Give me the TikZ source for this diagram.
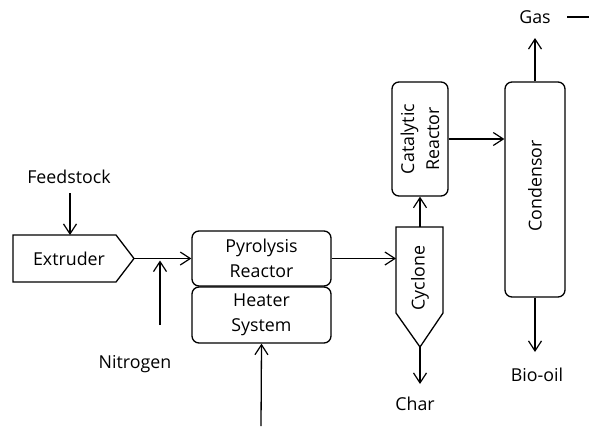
\documentclass[tikz,border=0pt]{standalone}
\usepackage{fontspec}
\setmainfont{Open Sans}
\usetikzlibrary{arrows.meta}
\begin{document}
\begin{tikzpicture}[x=1pt,y=-1pt, line width=1.3pt,
 box/.style={draw, rounded corners=7pt, inner sep=0pt},
 lbl/.style={font=\fontsize{17.8}{25}\selectfont, inner sep=0pt, align=center},
 flow/.style={-{Straight Barb[length=10pt,width=13pt,line width=1.2pt]}}]
\useasboundingbox (0,0) rectangle (589,426);
% Extruder
\draw (13,235) -- (116,235) -- (134,258.5) -- (116,282) -- (13,282) -- cycle;
\node[lbl] (extl) at (69,259) {Extruder};
\coordinate (exttip) at (134,258.5);
\coordinate (exttop) at (70,235);
% Feedstock
\node[lbl] (feed) at (69,177) {Feedstock};
\coordinate (feedst) at (70,193);
\draw[flow] (feedst) -- (exttop);
% Pyrolysis reactor and heater
\node[box, minimum width=139pt, minimum height=55pt] (pyro) at (261.5,258.5) {};
\node[lbl] (pyrol) at (pyro) {Pyrolysis\\Reactor};
\node[box, minimum width=139pt, minimum height=56pt] (heat) at (261.5,315) {};
\node[lbl] (heatl) at (heat) {Heater\\System};
\draw[flow] (exttip) -- (pyro.west);
% Nitrogen
\node[lbl] (nit) at (135,364) {Nitrogen};
\coordinate (nitst) at (160,325);
\coordinate (nitj) at (160,260.5);
\draw[flow] (nitst) -- (nitj);
% Heater input
\coordinate (heatin) at (261,426);
\draw[flow] (heatin) -- (heat.south);
% Cyclone
\draw (396,227) -- (443,227) -- (443,313) -- (420,347) -- (396,313) -- cycle;
\node[lbl, rotate=90] (cyc) at (420,278) {Cyclone};
\coordinate (cycin) at (396,258.5);
\coordinate (cyctop) at (420,227);
\coordinate (cycbot) at (420,347);
\draw[flow] (pyro.east) -- (cycin);
% Char
\coordinate (charend) at (420,384);
\draw[flow] (cycbot) -- (charend);
\node[lbl] (char) at (415,404) {Char};
% Catalytic reactor
\node[box, minimum width=56pt, minimum height=114pt] (cat) at (420,139) {};
\node[lbl, rotate=90] (catl) at (cat) {Catalytic\\Reactor};
\draw[flow] (cyctop) -- (cat.south);
% Condensor
\node[box, minimum width=60pt, minimum height=215pt] (cond) at (535,189.5) {};
\node[lbl, rotate=90] (condl) at (535,186) {Condensor};
\draw[flow] (cat.east) -- (cat.east -| cond.west);
% Gas
\coordinate (gasend) at (535,38);
\draw[flow] (cond.north) -- (gasend);
\node[lbl] (gas) at (535,17) {Gas};
\coordinate (dasha) at (567,17);
\coordinate (dashb) at (589,17);
\draw (dasha) -- (dashb);
% Bio-oil
\coordinate (oilend) at (535,352);
\draw[flow] (cond.south) -- (oilend);
\node[lbl] (oil) at (537,375) {Bio-oil};
\end{tikzpicture}
\end{document}
